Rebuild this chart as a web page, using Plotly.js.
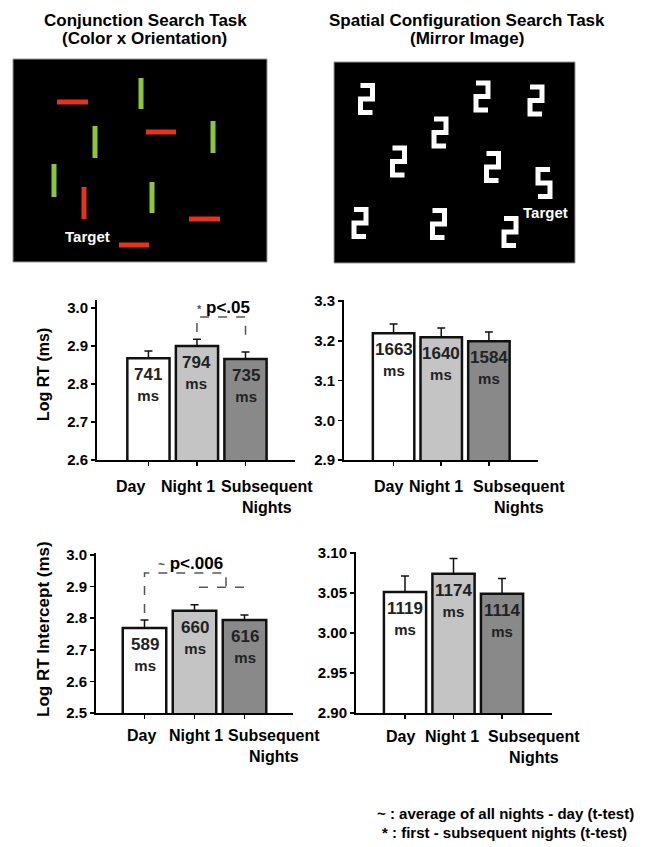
<!DOCTYPE html>
<html><head><meta charset="utf-8">
<script src="https://cdn.plot.ly/plotly-3.0.1.min.js"></script>
<style>body{margin:0;padding:0;background:#fff}#chart{width:663px;height:847px}</style>
</head><body><div id="chart"></div>
<script>
// ================= DATA =================
const categories = ['Day', 'Night 1', 'Subsequent Nights'];
const xTickLabels = ['Day', 'Night 1', 'Subsequent<br>Nights'];

// Conjunction search: Log RT
const conjLogRT = [2.868, 2.900, 2.866];
const conjLogRTErr = [0.019, 0.018, 0.018];
const conjRTms = [741, 794, 735];
// Spatial configuration search: Log RT
const spatLogRT = [3.219, 3.209, 3.199];
const spatLogRTErr = [0.023, 0.023, 0.023];
const spatRTms = [1663, 1640, 1584];
// Conjunction search: Log RT intercept
const conjIntercept = [2.769, 2.823, 2.794];
const conjInterceptErr = [0.025, 0.019, 0.016];
const conjInterceptMs = [589, 660, 616];
// Spatial configuration search: Log RT intercept
const spatIntercept = [3.051, 3.074, 3.049];
const spatInterceptErr = [0.020, 0.019, 0.019];
const spatInterceptMs = [1119, 1174, 1114];

const yTicksP1 = [2.6, 2.7, 2.8, 2.9, 3.0];
const yTicksP2 = [2.9, 3.0, 3.1, 3.2, 3.3];
const yTicksP3 = [2.5, 2.6, 2.7, 2.8, 2.9, 3.0];
const yTicksP4 = [2.90, 2.95, 3.00, 3.05, 3.10];

// Stimulus illustration (conjunction task): bar endpoints in image units
const redBarX0 = [44, 133, 176, 106, 71];
const redBarX1 = [75, 163, 207, 136, 71];
const redBarY0 = [43, 73, 160, 186, 128];
const redBarY1 = [43, 73, 160, 186, 160];
const greenBarX = [128, 82, 200, 41, 139];
const greenBarY0 = [19, 67, 62, 105, 123];
const greenBarY1 = [50, 99, 94, 138, 154];
// Stimulus illustration (spatial configuration task): glyph centres
const distractorX = [32.5, 148, 202, 106, 64.5, 158.5, 26, 104.5, 176];
const distractorY = [37, 34.5, 38.5, 70.5, 99.5, 105, 161, 162, 170];
const targetX = [210];
const targetY = [121];

// ================= LAYOUT HELPERS =================
const W = 663, H = 847;
const PX = x => x / W;
const PY = y => 1 - y / H;
const FONT = 'Liberation Sans, Arial, sans-serif';
const barColors = ['#ffffff', '#c4c4c4', '#898989'];

function barTrace(vals, errs, xa, ya) {
  return {
    type: 'bar', x: categories, y: vals, xaxis: xa, yaxis: ya,
    width: 0.87,
    marker: {color: barColors, line: {color: '#111', width: 2.5}},
    error_y: {type: 'data', symmetric: false, array: errs, arrayminus: errs.map(() => 0),
              color: '#111', thickness: 1.5, width: 4},
    hoverinfo: 'skip', showlegend: false
  };
}
function xAx(px0, px1, range, yname) {
  return {domain: [PX(px0), PX(px1)], range: range, type: 'category', anchor: yname,
    showline: true, linecolor: '#000', linewidth: 2, ticks: 'outside', ticklen: 4,
    tickwidth: 1.5, tickcolor: '#000', showticklabels: false, showgrid: false,
    zeroline: false, fixedrange: true};
}
function yAx(pyTop, pyBot, range, tickvals, fmt, xname) {
  return {domain: [PY(pyBot), PY(pyTop)], range: range, anchor: xname,
    tickvals: tickvals, tickformat: fmt,
    showline: true, linecolor: '#000', linewidth: 2, ticks: 'outside', ticklen: 4,
    tickwidth: 1.5, tickcolor: '#000', showgrid: false, zeroline: false, fixedrange: true,
    tickfont: {family: FONT, size: 15, color: '#000', weight: 'bold'}};
}
function hidden(domain, range) {
  return {domain: domain, range: range, visible: false, showgrid: false, zeroline: false, fixedrange: true};
}

// ================= TRACES =================
const traces = [
  barTrace(conjLogRT, conjLogRTErr, 'x', 'y'),
  barTrace(spatLogRT, spatLogRTErr, 'x2', 'y2'),
  barTrace(conjIntercept, conjInterceptErr, 'x3', 'y3'),
  barTrace(spatIntercept, spatInterceptErr, 'x4', 'y4')
];

// red and green bars of the conjunction stimulus
const rx = [], ry = [];
redBarX0.forEach((v, i) => { rx.push(v, redBarX1[i], null); ry.push(redBarY0[i], redBarY1[i], null); });
const gx = [], gy = [];
greenBarX.forEach((v, i) => { gx.push(v, v, null); gy.push(greenBarY0[i], greenBarY1[i], null); });
traces.push({type: 'scatter', mode: 'lines', x: rx, y: ry, xaxis: 'x5', yaxis: 'y5',
  line: {color: '#e8321e', width: 5}, hoverinfo: 'skip', showlegend: false});
traces.push({type: 'scatter', mode: 'lines', x: gx, y: gy, xaxis: 'x5', yaxis: 'y5',
  line: {color: '#8cc63e', width: 5}, hoverinfo: 'skip', showlegend: false});

// glyphs of the spatial configuration stimulus
const gw = 6, gh = 13.5;
const shape2 = [[-gw, -gh], [gw, -gh], [gw, 0], [-gw, 0], [-gw, gh], [gw, gh]];
const shape5 = [[gw, -gh], [-gw, -gh], [-gw, 0], [gw, 0], [gw, gh], [-gw, gh]];
function glyphs(cx, cy, shp) {
  const xs = [], ys = [];
  cx.forEach((c, i) => { shp.forEach(p => { xs.push(c + p[0]); ys.push(cy[i] + p[1]); }); xs.push(null); ys.push(null); });
  return {xs, ys};
}
const d2 = glyphs(distractorX, distractorY, shape2);
const t5 = glyphs(targetX, targetY, shape5);
[d2, t5].forEach(g => traces.push({type: 'scatter', mode: 'lines', x: g.xs, y: g.ys,
  xaxis: 'x6', yaxis: 'y6', line: {color: '#ffffff', width: 5}, hoverinfo: 'skip', showlegend: false}));

// ================= ANNOTATIONS =================
const ann = [];
function txt(x, y, text, size, extra) {
  return Object.assign({xref: 'paper', yref: 'paper', x: PX(x), y: PY(y), text: text,
    xanchor: 'center', yanchor: 'middle',
    showarrow: false, font: {family: FONT, size: size, color: '#000', weight: 'bold'}}, extra || {});
}
// titles
ann.push(txt(145, 20, 'Conjunction Search Task', 17));
ann.push(txt(144, 38, '(Color x Orientation)', 17));
ann.push(txt(467, 20, 'Spatial Configuration Search Task', 17));
ann.push(txt(467, 38, '(Mirror Image)', 17));
// "Target" labels in stimuli
ann.push({xref: 'x5', yref: 'y5', x: 74, y: 177, xanchor: 'center', yanchor: 'middle', text: 'Target', showarrow: false,
  font: {family: FONT, size: 15, color: '#fff', weight: 'bold'}});
ann.push({xref: 'x6', yref: 'y6', x: 211, y: 150, xanchor: 'center', yanchor: 'middle', text: 'Target', showarrow: false,
  font: {family: FONT, size: 15, color: '#fff', weight: 'bold'}});

// bar value labels
function barLabels(vals, ms, xa, ya) {
  vals.forEach((v, i) => ann.push({xref: xa, yref: ya, x: i, y: v, xanchor: 'center', yanchor: 'top', yshift: -5,
    text: '<span style="font-size:17px">' + ms[i] + '</span><br><span style="font-size:15px">ms</span>',
    showarrow: false, font: {family: FONT, size: 16, color: '#222', weight: 'bold'}}));
}
barLabels(conjLogRT, conjRTms, 'x', 'y');
barLabels(spatLogRT, spatRTms, 'x2', 'y2');
barLabels(conjIntercept, conjInterceptMs, 'x3', 'y3');
barLabels(spatIntercept, spatInterceptMs, 'x4', 'y4');

// category labels (placed as in the original)
const labelPos = [
  {x: [130, 188, 267], y: 476},
  {x: [388, 436, 519], y: 476},
  {x: [141, 196, 274], y: 725},
  {x: [400, 452, 534], y: 726}
];
labelPos.forEach(p => xTickLabels.forEach((t, i) =>
  ann.push(txt(p.x[i], p.y, t, 16, {yanchor: 'top'}))));

// y-axis titles
ann.push(txt(43, 375, 'Log RT (ms)', 16, {textangle: -90}));
ann.push(txt(43, 629, 'Log RT Intercept (ms)', 17, {textangle: -90}));

// significance labels
ann.push(txt(223, 307, '<span style="font-size:11px;color:#555">*</span> p&lt;.05', 17));
ann.push(txt(190, 563, '<span style="font-size:12px;color:#555">~</span> p&lt;.006', 17));

// footnotes
ann.push(txt(505, 813, '~ : average of all nights - day (t-test)', 15));
ann.push(txt(504, 832, '* : first - subsequent nights (t-test)', 15));

// ================= SHAPES =================
const dashLine = {color: '#555', width: 1.5, dash: 'dash'};
const shapes = [
  {type: 'rect', xref: 'x5 domain', yref: 'y5 domain', x0: 0, x1: 1, y0: 0, y1: 1,
   fillcolor: '#000', line: {color: '#999', width: 1}, layer: 'below'},
  {type: 'rect', xref: 'x6 domain', yref: 'y6 domain', x0: 0, x1: 1, y0: 0, y1: 1,
   fillcolor: '#000', line: {color: '#999', width: 1}, layer: 'below'},
  {type: 'path', xref: 'x', yref: 'y', path: 'M 1,2.937 L 1,2.976 L 2,2.976 L 2,2.916', line: dashLine},
  {type: 'path', xref: 'x3', yref: 'y3', path: 'M 0,2.816 L 0,2.943 L 1.63,2.943 L 1.63,2.898', line: dashLine},
  {type: 'path', xref: 'x3', yref: 'y3', path: 'M 1.09,2.898 L 2.11,2.898', line: dashLine}
];

// ================= LAYOUT =================
const layout = {
  width: W, height: H, margin: {l: 0, r: 0, t: 0, b: 0},
  paper_bgcolor: '#fff', plot_bgcolor: 'rgba(0,0,0,0)',
  font: {family: FONT, color: '#000'},
  showlegend: false, bargap: 0.1,
  xaxis: xAx(97, 295, [-1.06, 3.02], 'y'),
  yaxis: yAx(300, 460, [2.6, 3.021], yTicksP1, '.1f', 'x'),
  xaxis2: xAx(344, 538, [-1.04, 3.03], 'y2'),
  yaxis2: yAx(300, 460, [2.9, 3.3025], yTicksP2, '.1f', 'x2'),
  xaxis3: xAx(96, 293, [-0.97, 2.97], 'y3'),
  yaxis3: yAx(553, 713, [2.5, 3.006], yTicksP3, '.1f', 'x3'),
  xaxis4: xAx(356, 552, [-1.01, 3.03], 'y4'),
  yaxis4: yAx(552, 713, [2.9, 3.101], yTicksP4, '.2f', 'x4'),
  xaxis5: Object.assign(hidden([PX(13), PX(267)], [0, 254]), {anchor: 'y5'}),
  yaxis5: Object.assign(hidden([PY(262), PY(59)], [203, 0]), {anchor: 'x5'}),
  xaxis6: Object.assign(hidden([PX(334), PX(575)], [0, 241]), {anchor: 'y6'}),
  yaxis6: Object.assign(hidden([PY(263), PY(62)], [201, 0]), {anchor: 'x6'}),
  annotations: ann, shapes: shapes
};

Plotly.newPlot('chart', traces, layout, {staticPlot: true, displayModeBar: false});
</script></body></html>
